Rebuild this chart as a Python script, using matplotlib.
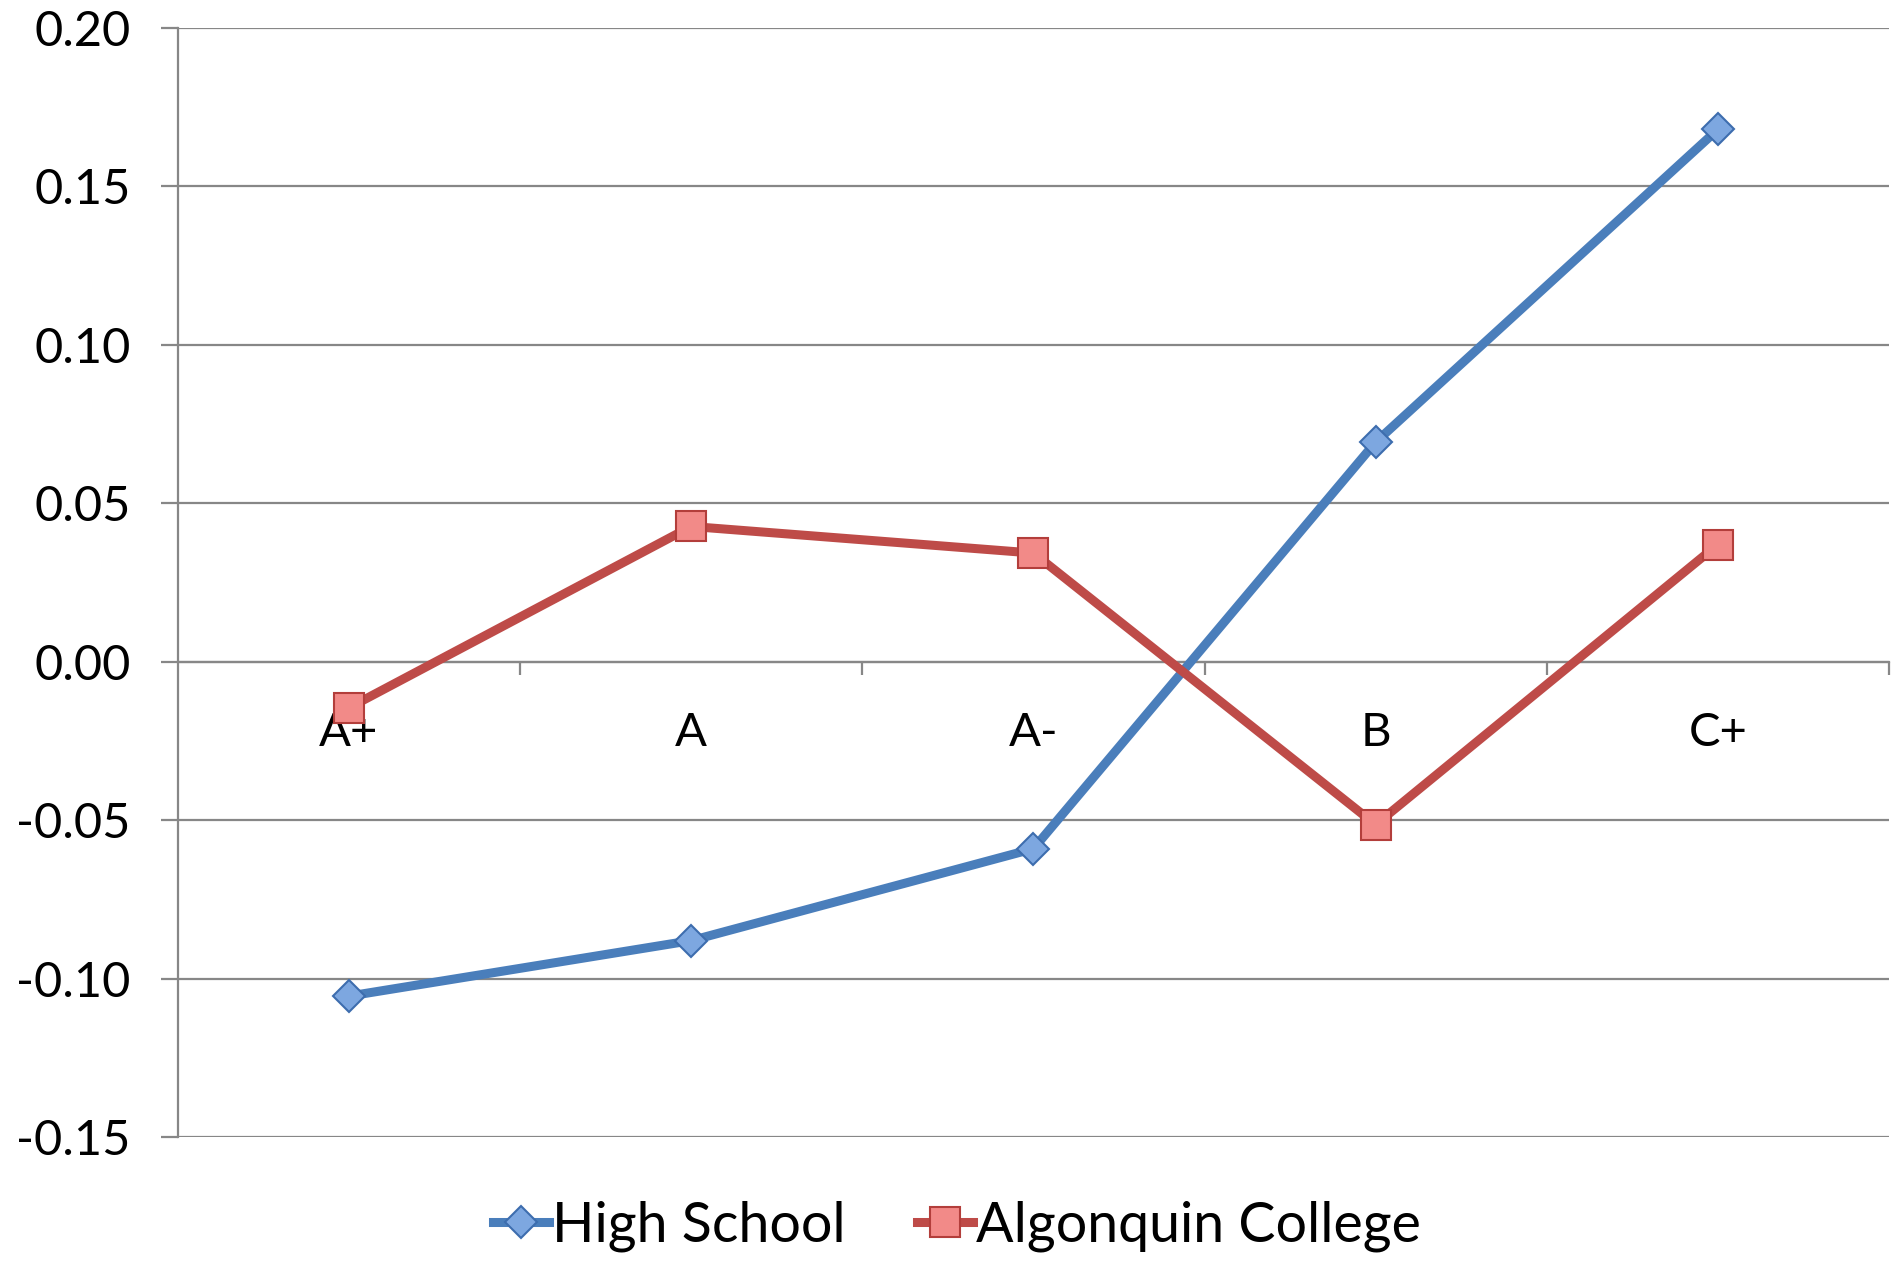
import matplotlib.pyplot as plt
import numpy as np

plt.rcParams['font.family'] = ['Lato', 'DejaVu Sans']

grades = ['A+', 'A', 'A-', 'B', 'C+']
high_school = [-0.1055, -0.088, -0.059, 0.0693, 0.168]
algonquin = [-0.0145, 0.0427, 0.0343, -0.0514, 0.037]
yticks = [-0.15, -0.10, -0.05, 0.00, 0.05, 0.10, 0.15, 0.20]

fig = plt.figure(figsize=(18.95, 12.62), dpi=100)
ax = fig.add_axes([0.0939, 0.099, 0.9029, 0.8788])

x = np.arange(len(grades))
grid_col = '#878787'

for yv in yticks:
    ax.axhline(yv, color=grid_col, lw=1.6, zorder=1)

ax.plot(x, high_school, color='#4A7EBB', lw=6.5, marker='D', ms=16,
        mfc='#7DA7E0', mec='#3D6DAE', mew=1.5, label='High School', zorder=3)
ax.plot(x, algonquin, color='#BE4B48', lw=6.5, marker='s', ms=22,
        mfc='#F28A88', mec='#B33E3B', mew=1.5, label='Algonquin College', zorder=3)

ax.set_xlim(-0.5, len(grades) - 0.5)
ax.set_ylim(-0.15, 0.20)

ax.set_yticks(yticks)
ax.set_yticklabels(['%.2f' % v for v in yticks])
ax.tick_params(axis='y', length=12, width=1.6, color=grid_col, pad=22, labelsize=35)

ax.spines['bottom'].set_position(('data', 0))
ax.spines['bottom'].set_color(grid_col)
ax.spines['bottom'].set_linewidth(1.6)
ax.spines['left'].set_color(grid_col)
ax.spines['left'].set_linewidth(1.6)
ax.spines['top'].set_visible(False)
ax.spines['right'].set_visible(False)

ax.set_xticks(x)
ax.set_xticklabels(grades)
ax.set_xticks(np.arange(len(grades)) + 0.5, minor=True)
ax.tick_params(axis='x', which='major', length=0, pad=36, labelsize=34)
ax.tick_params(axis='x', which='minor', length=9, width=1.6, color=grid_col)
for lbl in ax.get_xticklabels():
    lbl.set_zorder(5)

fig.legend(loc='lower center', bbox_to_anchor=(0.505, -0.032), ncol=2, frameon=False,
           fontsize=40, handlelength=1.0, handletextpad=0.05, columnspacing=1.3)

fig.savefig('out.png', dpi=100)
